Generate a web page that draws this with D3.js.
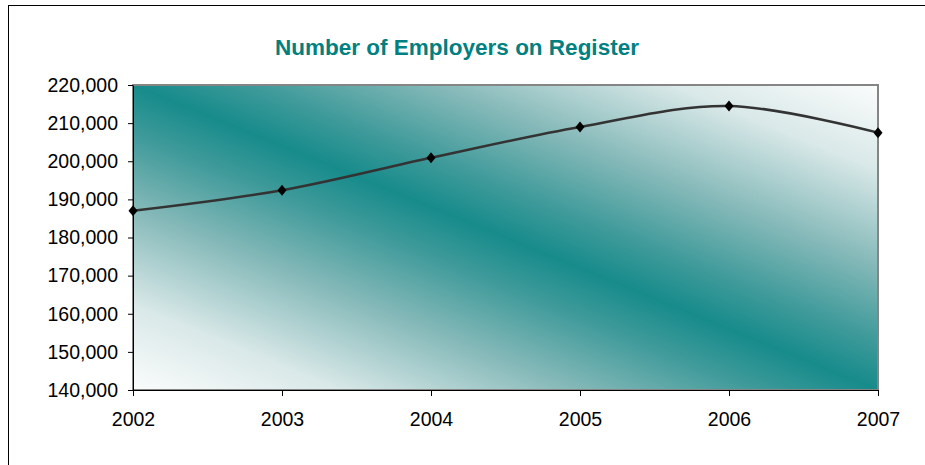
<!DOCTYPE html>
<html>
<head>
<meta charset="utf-8">
<script src="https://cdn.jsdelivr.net/npm/d3@7"></script>
<style>
  body { margin: 0; background: #fff; }
  svg { display: block; font-family: "Liberation Sans", Arial, sans-serif; }
</style>
</head>
<body>
<svg></svg>
<script>
const years = [2002, 2003, 2004, 2005, 2006, 2007];
const employers = [187000, 192400, 200900, 209000, 214500, 207500];
const yTicks = [140000, 150000, 160000, 170000, 180000, 190000, 200000, 210000, 220000];
const chartTitle = "Number of Employers on Register";

const width = 925;
const height = 465;
const plot = {left: 133, right: 878, top: 85, bottom: 390};

const svg = d3.select("svg")
  .attr("width", width)
  .attr("height", height);

let xScale;
let yScale;

const values = years.map((y, i) => ({year: y, count: employers[i]}));

const drawFrame = () => {
  // chart area border, runs off the right and bottom edges like the original
  svg.append("rect")
     .attr("x", 8.5)
     .attr("y", 5.5)
     .attr("width", 1000)
     .attr("height", 1000)
     .attr("fill", "none")
     .attr("stroke", "#000")
     .attr("stroke-width", 1);

  svg.append("text")
     .attr("x", 457)
     .attr("y", 55)
     .attr("text-anchor", "middle")
     .attr("font-size", 22.5)
     .attr("font-weight", "bold")
     .attr("fill", "#008080")
     .text(chartTitle);
}

const generateScale = () => {
  xScale = d3.scaleLinear()
             .domain(d3.extent(years))
             .range([plot.left, plot.right]);
  yScale = d3.scaleLinear()
             .domain([d3.min(yTicks), d3.max(yTicks)])
             .range([plot.bottom, plot.top]);
}

const drawPlotArea = () => {
  const grad = svg.append("defs")
    .append("linearGradient")
    .attr("id", "plotFill")
    .attr("x1", 0).attr("y1", 1)
    .attr("x2", 1).attr("y2", 0);
  // white corners, teal along the top-left to bottom-right diagonal
  const stops = [
    [0, "#fbfcfc"], [0.14, "#d9e8e8"], [0.3, "#84b8b8"], [0.42, "#3f9a9a"],
    [0.5, "#178b8b"], [0.58, "#3f9a9a"], [0.7, "#84b8b8"], [0.86, "#d9e8e8"], [1, "#fbfcfc"]
  ];
  grad.selectAll("stop")
      .data(stops)
      .enter()
      .append("stop")
      .attr("offset", d => d[0])
      .attr("stop-color", d => d[1]);

  svg.append("rect")
     .attr("x", xScale.range()[0])
     .attr("y", yScale.range()[1])
     .attr("width", xScale.range()[1] - xScale.range()[0])
     .attr("height", yScale.range()[0] - yScale.range()[1])
     .attr("fill", "url(#plotFill)")
     .attr("stroke", "#858585")
     .attr("stroke-width", 2);
}

const generateAxis = () => {
  const yAxis = d3.axisLeft(yScale)
                  .tickValues(yTicks)
                  .tickFormat(d3.format(","))
                  .tickSize(5)
                  .tickSizeOuter(0)
                  .tickPadding(10);
  const xAxis = d3.axisBottom(xScale)
                  .tickValues(years)
                  .tickFormat(d3.format("d"))
                  .tickSize(6)
                  .tickSizeOuter(0)
                  .tickPadding(16);

  svg.append("g")
     .attr("id", "y-axis")
     .attr("transform", "translate(" + plot.left + ",0)")
     .call(yAxis)
     .call(g => g.selectAll("text").attr("font-size", 19.5).attr("fill", "#000"))
     .call(g => g.selectAll("line, path").attr("stroke", "#000"));

  svg.append("g")
     .attr("id", "x-axis")
     .attr("transform", "translate(0," + plot.bottom + ")")
     .call(xAxis)
     .call(g => g.selectAll("text").attr("font-size", 19.5).attr("fill", "#000"))
     .call(g => g.selectAll("line, path").attr("stroke", "#000"));
}

const drawLine = () => {
  const line = d3.line()
                 .x(d => xScale(d.year))
                 .y(d => yScale(d.count))
                 .curve(d3.curveCardinal.tension(0));

  svg.append("path")
     .datum(values)
     .attr("d", line)
     .attr("fill", "none")
     .attr("stroke", "#333")
     .attr("stroke-width", 2.5);

  svg.selectAll(".dot")
     .data(values)
     .enter()
     .append("path")
     .attr("class", "dot")
     .attr("d", "M0,-5.5L4.5,0L0,5.5L-4.5,0Z")
     .attr("transform", d => "translate(" + xScale(d.year) + "," + yScale(d.count) + ")")
     .attr("fill", "#000");
}

generateScale();
drawPlotArea();
generateAxis();
drawLine();
drawFrame();
</script>
</body>
</html>
